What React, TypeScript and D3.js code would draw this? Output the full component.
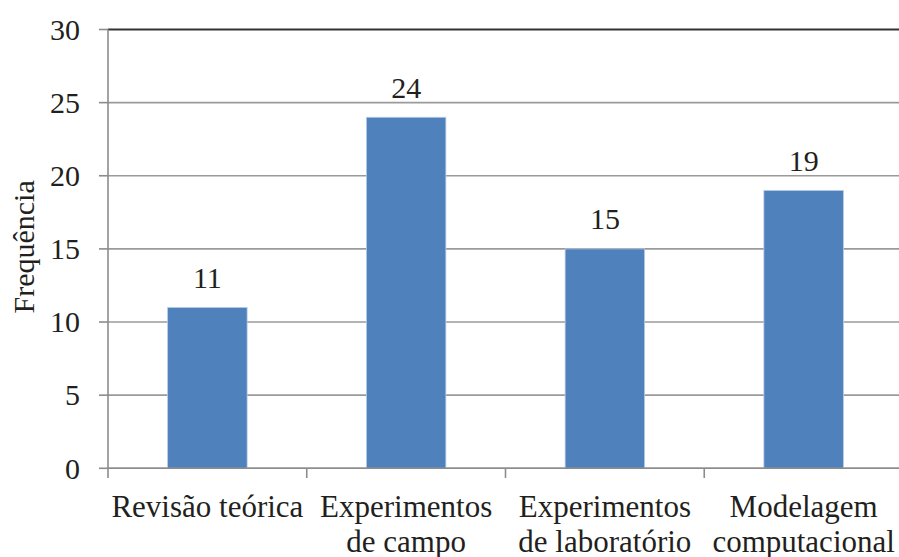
import React from "react";
import * as d3 from "d3";

const categories = [
  ["Revisão teórica"],
  ["Experimentos", "de campo"],
  ["Experimentos", "de laboratório"],
  ["Modelagem", "computacional"],
];
const values = [11, 24, 15, 19];
const yTicks = [0, 5, 10, 15, 20, 25, 30];
const yLabel = "Frequência";

const W = 899;
const H = 557;
const left = 108;
const right = 903;
const top = 29.5;
const bottom = 468.3;
const font = '"Liberation Serif", "Times New Roman", Times, serif';
const textColor = "#231f20";

export default function App() {
  const x = d3
    .scaleBand<number>()
    .domain(values.map((_, i) => i))
    .range([left, right])
    .paddingInner(0.6)
    .paddingOuter(0.3);
  const y = d3.scaleLinear().domain([0, 30]).range([bottom, top]);
  const step = (right - left) / values.length;

  return (
    <svg
      width={W}
      height={H}
      style={{ position: "absolute", left: 0, top: 0, background: "#fff", fontFamily: font }}
    >
      {/* horizontal gridlines */}
      {yTicks.map((t) => (
        <line
          key={"g" + t}
          x1={left}
          x2={W}
          y1={y(t)}
          y2={y(t)}
          stroke={t === 30 ? "#333" : "#9a9a9a"}
          strokeWidth={t === 30 ? 2 : 1.6}
        />
      ))}
      {/* y ticks and labels */}
      {yTicks.map((t) => (
        <g key={"t" + t}>
          <line x1={99} x2={left} y1={y(t)} y2={y(t)} stroke="#8c8c8c" strokeWidth={1.6} />
          <text
            x={80}
            y={y(t)}
            dy="0.34em"
            textAnchor="end"
            fontSize={30}
            fill={textColor}
          >
            {t}
          </text>
        </g>
      ))}
      {/* bars */}
      {values.map((v, i) => (
        <g key={"b" + i}>
          <rect
            x={x(i)!}
            y={y(v)}
            width={x.bandwidth()}
            height={bottom - y(v)}
            fill="#4f81bd"
            stroke="#b9cde5"
            strokeWidth={0.8}
          />
          <text
            x={x(i)! + x.bandwidth() / 2}
            y={y(v) - 19.5}
            textAnchor="middle"
            fontSize={30}
            fill={textColor}
          >
            {v}
          </text>
        </g>
      ))}
      {/* axes */}
      <line x1={left} x2={left} y1={top} y2={478} stroke="#8c8c8c" strokeWidth={1.6} />
      <line x1={left} x2={W} y1={bottom} y2={bottom} stroke="#8c8c8c" strokeWidth={1.6} />
      {d3.range(1, values.length).map((k) => (
        <line
          key={"c" + k}
          x1={left + k * step}
          x2={left + k * step}
          y1={bottom}
          y2={478}
          stroke="#8c8c8c"
          strokeWidth={1.6}
        />
      ))}
      {/* category labels */}
      {categories.map((lines, i) => (
        <text
          key={"l" + i}
          x={x(i)! + x.bandwidth() / 2}
          y={517}
          textAnchor="middle"
          fontSize={31}
          fill={textColor}
        >
          {lines.map((ln, j) => (
            <tspan key={j} x={x(i)! + x.bandwidth() / 2} dy={j === 0 ? 0 : 35}>
              {ln}
            </tspan>
          ))}
        </text>
      ))}
      {/* y-axis title */}
      <text
        transform={`translate(34, ${(top + bottom) / 2 - 2}) rotate(-90)`}
        textAnchor="middle"
        fontSize={30}
        fill={textColor}
      >
        {yLabel}
      </text>
    </svg>
  );
}
